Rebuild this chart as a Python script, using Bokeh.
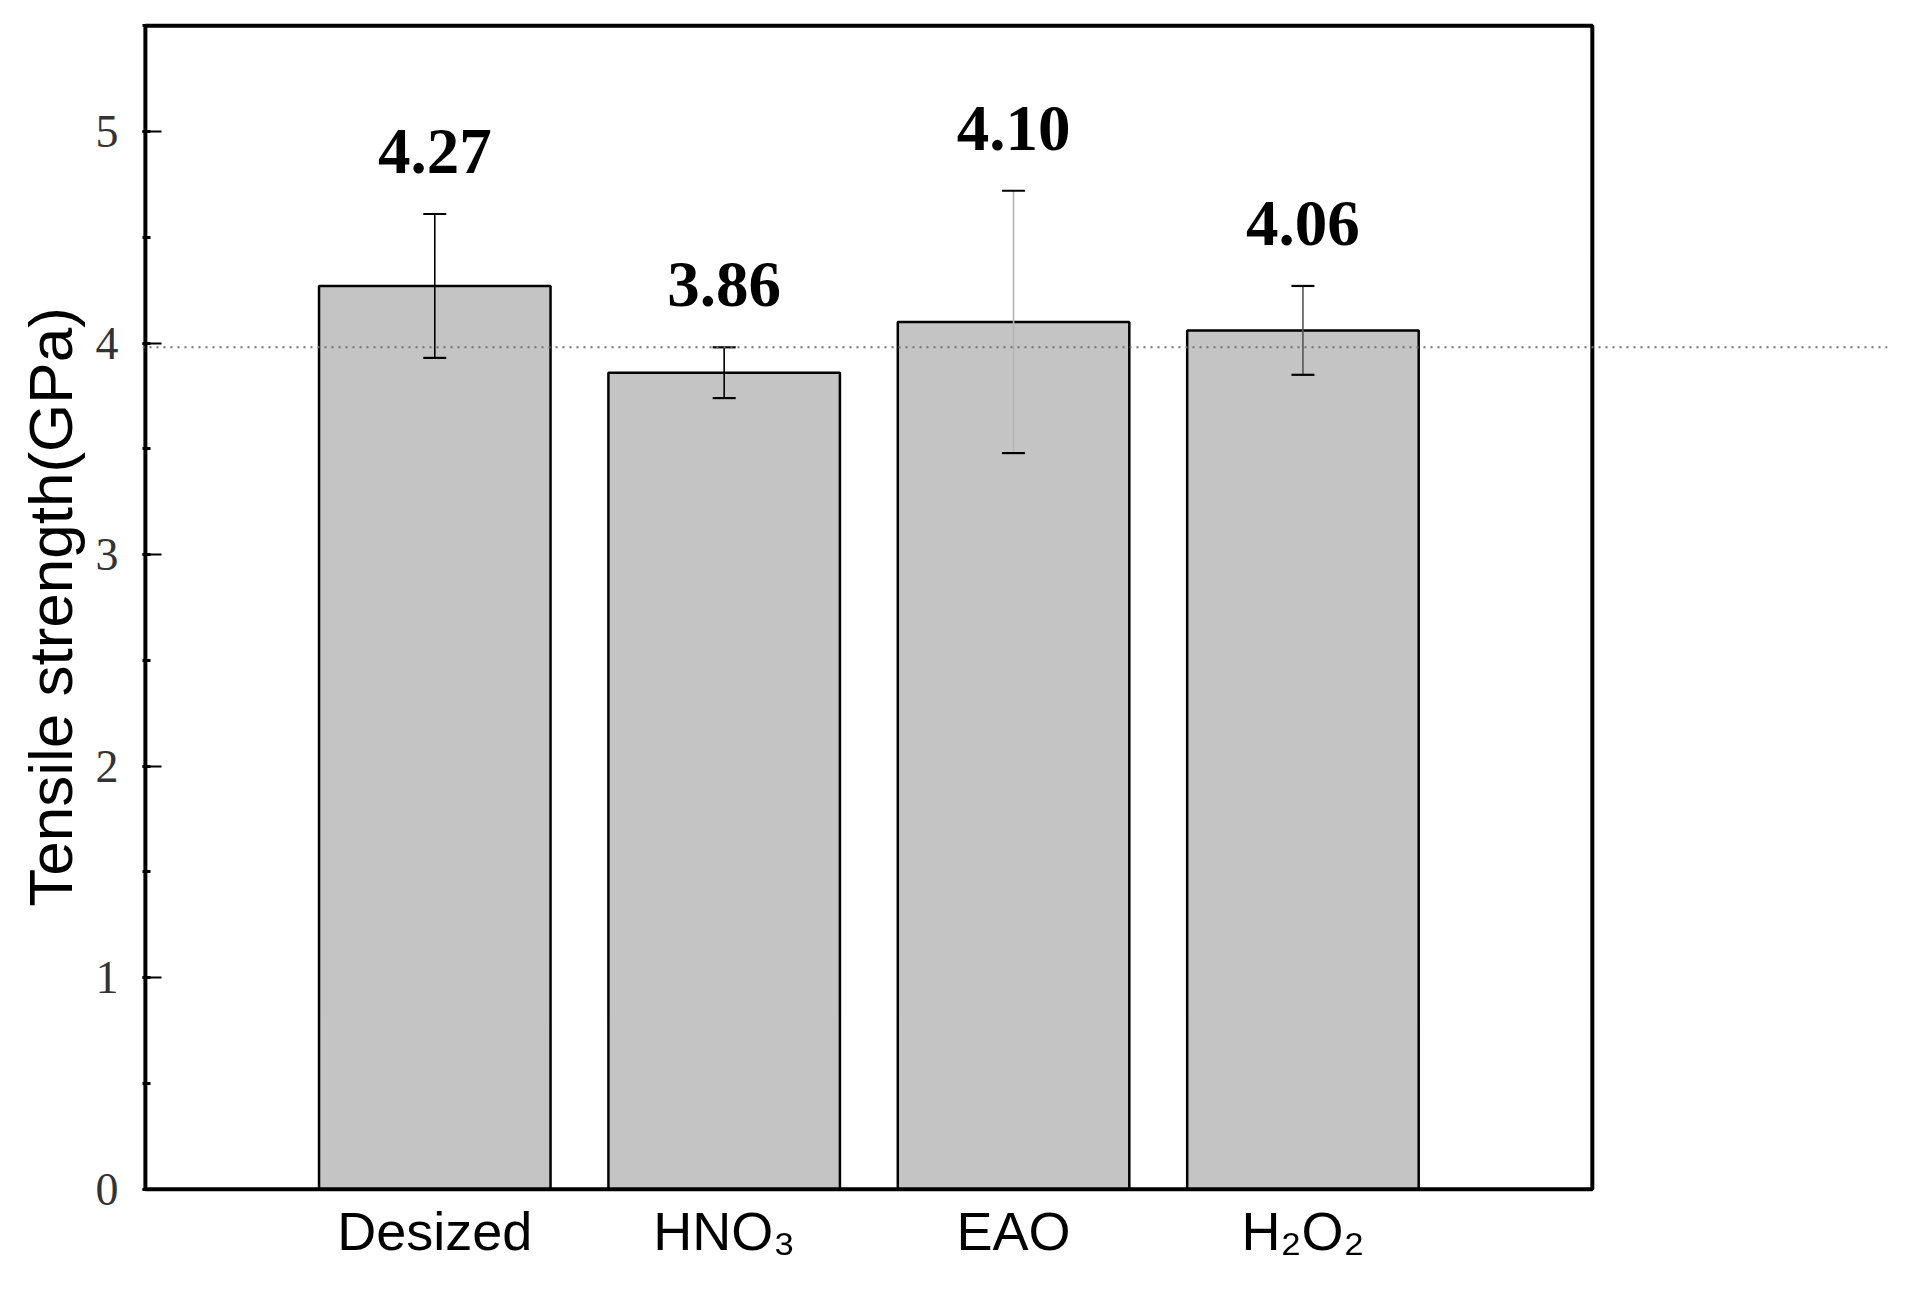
from bokeh.plotting import figure
from bokeh.models import (ColumnDataSource, Range1d, FixedTicker, SingleIntervalTicker,
                          LabelSet, Span)
from bokeh.embed import file_html
from bokeh.resources import INLINE

# ---- data ----
categories = ["Desized", "HNO\u2083", "EAO", "H\u2082O\u2082"]
strength = [4.27, 3.86, 4.10, 4.06]
strength_err = [0.34, 0.12, 0.62, 0.21]
value_labels = ["4.27", "3.86", "4.10", "4.06"]
reference_level = 3.98
y_max = 5.5

# ---- derived ----
xpos = list(range(1, len(categories) + 1))
lower = [v - e for v, e in zip(strength, strength_err)]
upper = [v + e for v, e in zip(strength, strength_err)]
stem_colors = ["black", "black", "#b4b4b4", "#555555"]

src = ColumnDataSource(dict(x=xpos, top=strength, lower=lower, upper=upper,
                            label=value_labels, stem=stem_colors))

n = len(categories)
p = figure(
    frame_width=1745, frame_height=1171,
    x_range=Range1d(-0.01, n + 2.02), y_range=Range1d(-0.015, y_max + 0.02),
    output_backend="svg", toolbar_location=None, tools="",
    background_fill_color="white", border_fill_color="white",
)
p.min_border_left = 142
p.min_border_right = 10
p.min_border_top = 21
p.min_border_bottom = 86
p.outline_line_color = None
p.grid.visible = False

# reference dotted line
p.add_layout(Span(location=reference_level, dimension="width", line_color="#707070",
                  line_dash="2 5", line_width=2))

# bars
p.vbar(x="x", top="top", bottom=0, width=0.8, source=src,
       fill_color="#c4c4c4", line_color="black", line_width=2.5)

# error bars
p.segment(x0="x", y0="lower", x1="x", y1="upper", source=src,
          line_color="stem", line_width=1.6)
p.dash(x="x", y="upper", source=src, size=23, line_color="black", line_width=2.2)
p.dash(x="x", y="lower", source=src, size=23, line_color="black", line_width=2.2)

# frame box (axes box ends at x = n+1)
p.quad(left=0, right=n + 1, bottom=0, top=y_max, fill_color=None,
       line_color="black", line_width=4)

# value labels
labels = LabelSet(x="x", y="upper", text="label", source=src, y_offset=41,
                  text_align="center", text_baseline="alphabetic",
                  text_font="Liberation Serif", text_font_style="bold",
                  text_font_size="65px", text_color="black")
p.add_layout(labels)

# x axis
xa = p.xaxis[0]
xa.ticker = FixedTicker(ticks=xpos)
xa.major_label_overrides = {i: c for i, c in zip(xpos, categories)}
xa.axis_line_color = None
xa.major_tick_line_color = None
xa.minor_tick_line_color = None
xa.major_label_text_font = "Liberation Sans"
xa.major_label_text_font_size = "54px"
xa.major_label_text_color = "black"
xa.major_label_standoff = 2

# y axis
ya = p.yaxis[0]
ya.ticker = SingleIntervalTicker(interval=1, num_minor_ticks=2)
ya.axis_line_color = None
ya.major_tick_in = 19
ya.major_tick_out = 0
ya.minor_tick_in = 8
ya.minor_tick_out = 0
ya.major_tick_line_width = 2
ya.minor_tick_line_width = 3
ya.major_tick_line_color = "black"
ya.minor_tick_line_color = "black"
ya.major_label_text_font = "Liberation Serif"
ya.major_label_text_font_size = "46px"
ya.major_label_text_color = "#333333"
ya.major_label_standoff = 24
ya.axis_label = "Tensile strength(GPa)"
ya.axis_label_text_font = "Liberation Sans"
ya.axis_label_text_font_size = "62px"
ya.axis_label_text_font_style = "normal"
ya.axis_label_text_color = "black"
ya.axis_label_standoff = 8

open("out.html", "w").write(file_html(p, INLINE))
